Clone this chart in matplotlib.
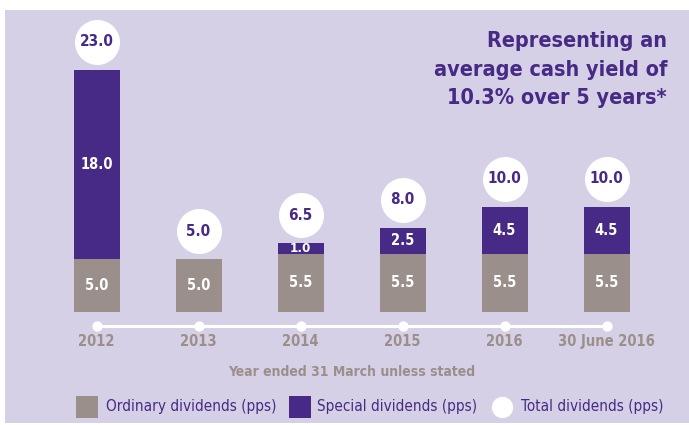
import matplotlib
matplotlib.use("Agg")
import matplotlib.pyplot as plt
from matplotlib.patches import Rectangle
from matplotlib.transforms import ScaledTranslation
import numpy as np

categories = ["2012", "2013", "2014", "2015", "2016", "30 June 2016"]
ordinary = [5.0, 5.0, 5.5, 5.5, 5.5, 5.5]
special = [18.0, 0.0, 1.0, 2.5, 4.5, 4.5]
total = [23.0, 5.0, 6.5, 8.0, 10.0, 10.0]
title_lines = ["Representing an", "average cash yield of", "10.3% over 5 years*"]
xlabel = "Year ended 31 March unless stated"
legend_labels = ["Ordinary dividends (pps)", "Special dividends (pps)", "Total dividends (pps)"]

PURPLE = "#472a86"
GREY = "#9b8f8b"
BG = "#d6d0e6"
FONT = dict(family="DejaVu Sans", stretch="condensed")

W, H = 689, 425
fig = plt.figure(figsize=(W / 100, H / 100), dpi=100)
fig.patch.set_facecolor("white")
fig.add_artist(Rectangle((5 / W, (H - 423) / H), (W - 5) / W, (423 - 10) / H,
                         transform=fig.transFigure, facecolor=BG, edgecolor="none", zorder=0))

ax = fig.add_axes([0, 0, 1, 1])
ax.set_facecolor("none")
ax.axis("off")
px_per_x = 102.0
x0 = 96.5
ax.set_xlim((0 - x0) / px_per_x, (W - x0) / px_per_x)
px_per_y = 10.5
base = 311.5
ax.set_ylim(-(H - base) / px_per_y, base / px_per_y)

x = np.arange(len(categories))
bw = 46 / px_per_x
ax.bar(x, ordinary, width=bw, color=GREY, zorder=2)
ax.bar(x, special, width=bw, bottom=ordinary, color=PURPLE, zorder=2)

for i in range(len(categories)):
    ax.text(x[i], ordinary[i] / 2, f"{ordinary[i]:.1f}", ha="center", va="center",
            color="white", fontsize=10.5, fontweight="bold", zorder=3, **FONT)
    if special[i] > 0:
        fs = 10.5 if special[i] >= 2 else 9.5
        ax.text(x[i], ordinary[i] + special[i] / 2, f"{special[i]:.1f}", ha="center", va="center",
                color="white", fontsize=fs, fontweight="bold", zorder=3, **FONT)

off = ScaledTranslation(0, 28 / 100, fig.dpi_scale_trans)
ax.scatter(x, total, s=1050, color="white", zorder=3, transform=ax.transData + off, linewidths=0)
for i in range(len(categories)):
    ax.text(x[i], total[i], f"{total[i]:.1f}", ha="center", va="center", color=PURPLE,
            fontsize=11, fontweight="bold", zorder=4, transform=ax.transData + off, **FONT)

# timeline
tr = ax.get_xaxis_transform()
def yf(py):
    return 1 - py / H
ax.plot([x[0], x[-1]], [yf(325.5)] * 2, color="white", lw=2.2, transform=tr, zorder=2)
ax.scatter(x, [yf(325.5)] * len(x), s=55, color="white", transform=tr, zorder=3, linewidths=0)
for i, c in enumerate(categories):
    ax.text(x[i], yf(341.5), c, ha="center", va="center", color=GREY, fontsize=10.5,
            fontweight="bold", transform=tr, **FONT)
ax.text((352 - x0) / px_per_x, yf(371.5), xlabel, ha="center", va="center", color=GREY,
        fontsize=10, fontweight="bold", transform=tr, **FONT)

# title
for j, line in enumerate(title_lines):
    fig.text(667 / W, 1 - (41 + 28.5 * j) / H, line, ha="right", va="center", color=PURPLE,
             fontsize=15.5, fontweight="bold", **FONT)

# legend
ly = 407
fig.add_artist(Rectangle((76 / W, 1 - (ly + 11) / H), 22 / W, 22 / H, transform=fig.transFigure,
                         facecolor=GREY, edgecolor="none"))
fig.text(106 / W, 1 - ly / H, legend_labels[0], ha="left", va="center", color=PURPLE, fontsize=11, **FONT)
fig.add_artist(Rectangle((289 / W, 1 - (ly + 11) / H), 22 / W, 22 / H, transform=fig.transFigure,
                         facecolor=PURPLE, edgecolor="none"))
fig.text(317 / W, 1 - ly / H, legend_labels[1], ha="left", va="center", color=PURPLE, fontsize=11, **FONT)
ax.scatter([(502 - x0) / px_per_x], [yf(ly)], s=235, color="white", transform=tr, linewidths=0, clip_on=False)
fig.text(521 / W, 1 - ly / H, legend_labels[2], ha="left", va="center", color=PURPLE, fontsize=11, **FONT)

fig.savefig("out.png", dpi=100, facecolor=fig.get_facecolor())
